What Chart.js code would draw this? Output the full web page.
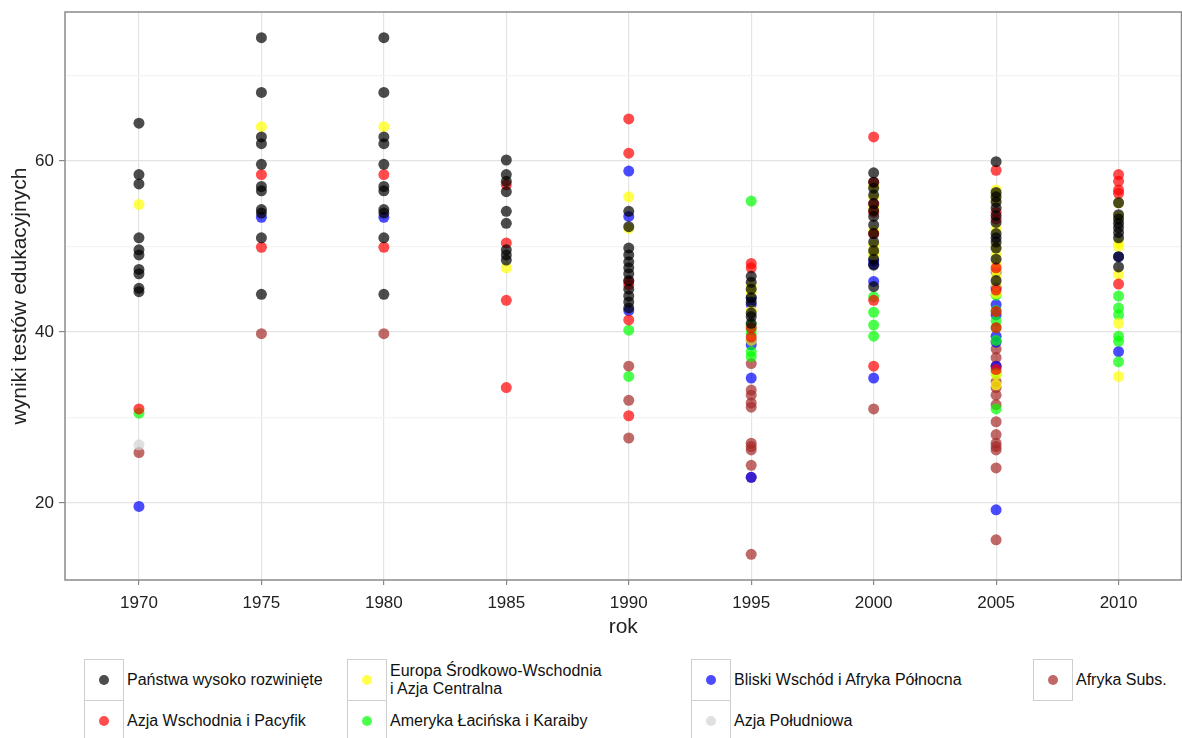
<!DOCTYPE html>
<html>
<head>
<meta charset="utf-8">
<script src="https://cdn.jsdelivr.net/npm/chart.js@4/dist/chart.umd.min.js"></script>
<style>
  body { margin: 0; background: #fff; font-family: "Liberation Sans", Arial, sans-serif; }
  #wrap { position: relative; width: 1182px; height: 738px; overflow: hidden; }
  #chart { position: absolute; left: 0; top: 0; }
  .key { position: absolute; box-sizing: border-box; border: 1px solid #cfcfcf; background: #fff; }
  .key span { position: absolute; left: 50%; top: 50%; width: 10px; height: 10px; margin: -5px 0 0 -5px; border-radius: 50%; }
  .label { position: absolute; font-size: 16px; line-height: 18px; color: #111; white-space: nowrap; }
</style>
</head>
<body>
<div id="wrap">
  <canvas id="chart" width="1187" height="650"></canvas>
  <div id="legend"></div>
</div>
<script>
// years on the x axis
const years = [1970, 1975, 1980, 1985, 1990, 1995, 2000, 2005, 2010];
const yTicks = [20, 30, 40, 50, 60, 70];

// test scores per region, one list per year (same order as `years`)
const highIncome = [
  [64.4, 58.4, 57.3, 51.0, 49.6, 49.0, 47.3, 46.8, 45.1, 44.7],
  [74.4, 68.0, 62.8, 62.0, 59.6, 57.0, 56.5, 54.3, 53.9, 51.0, 44.4],
  [74.4, 68.0, 62.8, 62.0, 59.6, 57.0, 56.5, 54.3, 53.9, 51.0, 44.4],
  [60.1, 58.4, 57.6, 56.4, 54.1, 52.7, 49.6, 49.0, 48.4],
  [54.1, 52.3, 49.8, 49.0, 48.2, 47.5, 46.8, 46.0, 45.0, 44.2, 43.5, 42.8],
  [46.5, 45.8, 45.0, 44.0, 43.5, 42.2, 41.8, 41.0],
  [58.6, 57.5, 56.8, 56.0, 55.0, 54.2, 53.5, 52.5, 51.5, 50.5, 49.5, 48.5, 47.8, 45.3],
  [59.9, 56.3, 55.8, 55.2, 54.5, 53.6, 52.8, 51.5, 51.0, 50.5, 49.8, 48.5, 46.0],
  [55.1, 53.7, 53.2, 52.7, 52.2, 51.6, 51.0, 48.8, 47.6]
];
const eastAsia = [
  [31.0],
  [58.4, 49.9],
  [58.4, 49.9],
  [57.2, 50.4, 43.7, 33.5],
  [64.9, 60.9, 45.9, 45.5, 41.4, 30.2],
  [48.0, 47.5, 40.5, 39.4],
  [62.8, 57.5, 55.0, 54.0, 51.5, 43.7, 36.0],
  [58.9, 54.0, 53.2, 47.5, 44.9, 42.4, 40.5, 35.6],
  [58.4, 57.6, 56.6, 56.2, 45.6]
];
const centralEurope = [
  [54.9],
  [64.0],
  [64.0],
  [47.5],
  [55.8, 52.1],
  [45.3, 44.6, 42.5, 39.0],
  [57.0, 55.8, 54.5, 51.8, 50.2, 49.5, 49.0],
  [56.6, 56.0, 55.4, 52.0, 50.0, 49.0, 48.0, 47.2, 46.5, 45.5, 44.5, 35.0, 33.8],
  [55.1, 53.5, 50.4, 50.0, 46.7, 41.0, 34.8]
];
const latinAmerica = [
  [30.5],
  [],
  [],
  [],
  [40.2, 34.8],
  [55.3, 40.8, 40.3, 39.8, 37.7, 37.1],
  [44.1, 42.3, 40.8, 39.5],
  [44.3, 42.5, 41.3, 40.5, 39.0, 35.2, 31.0],
  [44.2, 42.8, 42.0, 39.5, 38.9, 36.5]
];
const middleEast = [
  [19.6],
  [53.4],
  [53.4],
  [],
  [58.8, 53.5, 42.5],
  [44.0, 43.2, 39.0, 38.5, 34.6, 23.0],
  [48.3, 47.9, 45.9, 34.6],
  [47.0, 45.2, 43.2, 42.0, 39.5, 38.8, 36.0, 19.2],
  [48.8, 37.7]
];
const southAsia = [
  [26.8],
  [], [], [], [], [], [], [], []
];
const subSaharan = [
  [25.9],
  [39.8],
  [39.8],
  [],
  [36.0, 32.0, 27.6],
  [36.3, 33.2, 32.6, 31.7, 31.2, 27.0, 26.6, 26.2, 24.4, 23.0, 14.0],
  [31.0],
  [38.0, 37.0, 36.0, 34.2, 33.5, 32.6, 31.5, 29.5, 28.0, 27.0, 26.6, 26.2, 24.1, 15.7],
  []
];

const series = [
  { label: 'Państwa wysoko rozwinięte', values: highIncome, color: 'rgba(0,0,0,0.7)', col: 0, row: 0 },
  { label: 'Azja Wschodnia i Pacyfik', values: eastAsia, color: 'rgba(255,0,0,0.7)', col: 0, row: 1 },
  { label: 'Europa Środkowo-Wschodnia\ni Azja Centralna', values: centralEurope, color: 'rgba(255,255,0,0.7)', col: 1, row: 0 },
  { label: 'Ameryka Łacińska i Karaiby', values: latinAmerica, color: 'rgba(0,255,0,0.7)', col: 1, row: 1 },
  { label: 'Bliski Wschód i Afryka Północna', values: middleEast, color: 'rgba(0,0,255,0.7)', col: 2, row: 0 },
  { label: 'Azja Południowa', values: southAsia, color: 'rgba(211,211,211,0.7)', col: 2, row: 1 },
  { label: 'Afryka Subs.', values: subSaharan, color: 'rgba(165,42,42,0.7)', col: 3, row: 0 }
];

const datasets = series.map(s => ({
  label: s.label,
  data: s.values.flatMap((list, i) => list.map(v => ({ x: years[i], y: v }))),
  backgroundColor: s.color,
  borderWidth: 0,
  pointRadius: 5.5,
  pointHoverRadius: 5.5
}));

// grey frame round the plotting area
const panelBorder = {
  id: 'panelBorder',
  afterDraw(chart) {
    const { ctx, chartArea: a } = chart;
    ctx.save();
    ctx.strokeStyle = '#8a8a8a';
    ctx.lineWidth = 1.5;
    ctx.strokeRect(a.left, a.top, a.right - a.left, a.bottom - a.top);
    ctx.restore();
  }
};

const tickFont = { family: '"Liberation Sans", Arial, sans-serif', size: 17 };
const titleFont = { family: '"Liberation Sans", Arial, sans-serif', size: 21 };

new Chart(document.getElementById('chart'), {
  type: 'scatter',
  data: { datasets },
  options: {
    responsive: false,
    animation: false,
    events: [],
    layout: { padding: { top: 12, right: 1, left: 0, bottom: 0 } },
    plugins: { legend: { display: false }, tooltip: { enabled: false } },
    scales: {
      x: {
        min: 1966.98,
        max: 2012.57,
        afterBuildTicks: scale => { scale.ticks = years.map(v => ({ value: v })); },
        afterFit: scale => {
          scale.height = 70;
          scale.paddingLeft = 0;
          scale.paddingRight = 0;
        },
        grid: { color: '#e4e4e4', lineWidth: 1.2, tickLength: 5, tickColor: '#8a8a8a' },
        border: { display: false },
        ticks: { color: '#222', font: tickFont, padding: 8, maxRotation: 0, autoSkip: false, callback: v => String(v) },
        title: { display: true, text: 'rok', color: '#222', font: titleFont, padding: { top: 0, bottom: 10 } }
      },
      y: {
        min: 11,
        max: 77.4,
        afterBuildTicks: scale => { scale.ticks = yTicks.map(v => ({ value: v })); },
        afterFit: scale => {
          scale.width = 65;
          scale.paddingTop = 0;
          scale.paddingBottom = 0;
        },
        grid: {
          color: c => (c.tick && c.tick.value % 20 === 0 ? '#e4e4e4' : '#f4f4f4'),
          lineWidth: 1.2,
          tickLength: 6,
          tickColor: c => (c.tick && c.tick.value % 20 === 0 ? '#8a8a8a' : 'rgba(0,0,0,0)')
        },
        border: { display: false },
        ticks: {
          color: '#222',
          font: tickFont,
          padding: 5,
          callback: v => (v % 20 === 0 ? String(v) : '')
        },
        title: { display: true, text: 'wyniki testów edukacyjnych', color: '#222', font: titleFont, padding: { top: 8, bottom: 0 } }
      }
    }
  },
  plugins: [panelBorder]
});

// legend under the plot: boxed keys in four columns
const keyLeft = [84, 347, 691, 1033];
const rowTop = [659, 700];
const legend = document.getElementById('legend');
series.forEach(s => {
  const key = document.createElement('div');
  key.className = 'key';
  key.style.left = keyLeft[s.col] + 'px';
  key.style.top = rowTop[s.row] + 'px';
  key.style.width = '40px';
  key.style.height = '42px';
  const dot = document.createElement('span');
  dot.style.background = s.color;
  key.appendChild(dot);
  legend.appendChild(key);

  const lines = s.label.split('\n');
  const text = document.createElement('div');
  text.className = 'label';
  text.style.left = (keyLeft[s.col] + 43) + 'px';
  text.style.top = (rowTop[s.row] + 21 - lines.length * 9) + 'px';
  text.innerHTML = lines.join('<br>');
  legend.appendChild(text);
});
</script>
</body>
</html>
